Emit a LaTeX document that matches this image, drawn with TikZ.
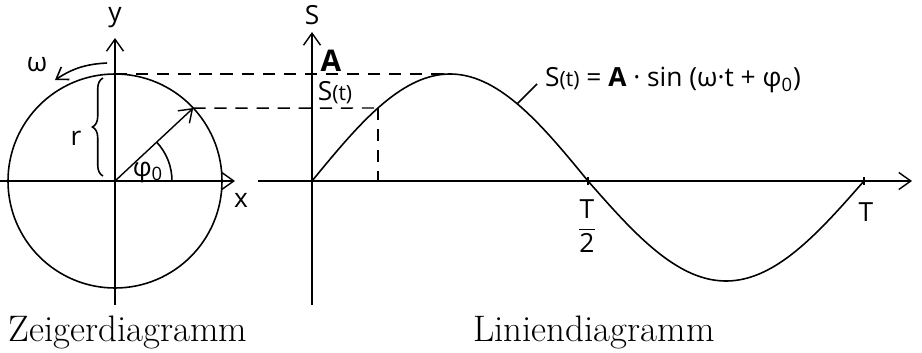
\documentclass[tikz,border=0pt]{standalone}
\usepackage{fontspec}
\setsansfont{Open Sans}
\usetikzlibrary{positioning,arrows.meta,calc,decorations.pathreplacing}
\newcommand\argt{{\fontsize{12}{14}\selectfont(t)}}
\tikzset{
  axis/.style={-{Straight Barb[length=2.4mm,width=3.4mm]}, line width=0.8pt},
  curve/.style={line width=0.9pt},
  guide/.style={dash pattern=on 7pt off 5pt, line width=0.85pt},
  hand/.style={font=\sffamily\fontsize{15}{17}\selectfont, inner sep=1pt},
  handbf/.style={hand, font=\sffamily\bfseries\fontsize{17}{19}\selectfont},
  caption/.style={font=\fontsize{21}{25}\selectfont, inner sep=0pt},
}
\begin{document}
\begin{tikzpicture}[x=0.02cm, y=0.02cm]
  \useasboundingbox (0,0) rectangle (922,352);
  % --- Zeigerdiagramm ---
  \coordinate (O)   at (115,171);
  \coordinate (top) at ($(O)+(90:107)$);
  \coordinate (tip) at ($(O)+(43:107)$);
  \coordinate (xl)  at (0,171);
  \coordinate (xr)  at (235,171);
  \coordinate (yb)  at (115,47);
  \coordinate (yt)  at (115,314);
  \draw[curve] (O) circle[radius=107];
  \draw[axis] (xl) -- (xr);
  \draw[axis] (yb) -- (yt);
  \node[hand] (ylbl) at (115,334) {y};
  \node[hand] (xlbl) at (241,152) {x};
  \draw[axis] (O) -- (tip);
  \draw[curve] ($(O)+(57,0)$) arc[start angle=0, end angle=43, radius=57];
  \node[hand] (phi) at (148,180) {φ\textsubscript{0}};
  % radius brace
  \coordinate (brb) at (103,176);
  \coordinate (brt) at (103,274);
  \draw[curve, decorate, decoration={brace, amplitude=6pt}] (brb) -- (brt);
  \node[hand] (rlbl) at (76,214) {r};
  % rotation
  \coordinate (wA) at (107,289);
  \coordinate (wB) at (55,272);
  \draw[curve, -{Straight Barb[length=2.2mm,width=3mm]}] (wA) to[bend right=15] (wB);
  \node[hand] (omega) at (37,287) {ω};

  % --- Liniendiagramm ---
  \coordinate (S0) at (312,171);
  \coordinate (tl) at (258,171);
  \coordinate (tr) at (912,171);
  \coordinate (sb) at (312,47);
  \coordinate (st) at (312,320);
  \draw[axis] (tl) -- (tr);
  \draw[axis] (sb) -- (st);
  \node[hand] (slbl) at (312,337) {S};
  \draw[curve] plot[domain=0:276, samples=70] ({312+\x},{171+107*sin(\x/552*360)})
    -- plot[domain=276:552, samples=70] ({312+\x},{171+100*sin(\x/552*360)});
  \coordinate (peak) at (450,278);
  \coordinate (Q)    at (378,244);
  \coordinate (Qf)   at (378,171);
  \draw[guide] (top) -- (peak);
  \draw[guide] (tip) -- (Q);
  \draw[guide] (Q) -- (Qf);
  \coordinate (half) at (588,171);
  \coordinate (full) at (864,171);
  \draw[curve] ($(half)+(0,-4)$) -- ($(half)+(0,4)$);
  \draw[curve] ($(full)+(0,-4)$) -- ($(full)+(0,4)$);
  \node[handbf] (Albl) at (331,291) {A};
  \node[hand] (stlbl) at (335,259) {S\argt};
  % formula with leader line
  \coordinate (lA) at (517,248);
  \coordinate (lB) at (537,268);
  \draw[curve] (lA) -- (lB);
  \node[hand, anchor=west] (formel) at (543,272)
    {S\argt{} = \textbf{A} · sin (ω·t + φ\textsubscript{0})};
  \node[hand] (hlbl) at (587,126) {$\displaystyle\frac{\mbox{T}}{\mbox{2}}$};
  \node[hand] (Tlbl) at (866,140) {T};

  % captions
  \node[caption] (zeiger) at (128,20) {Zeigerdiagramm};
  \node[caption] (linien) at (594,20) {Liniendiagramm};
\end{tikzpicture}
\end{document}
